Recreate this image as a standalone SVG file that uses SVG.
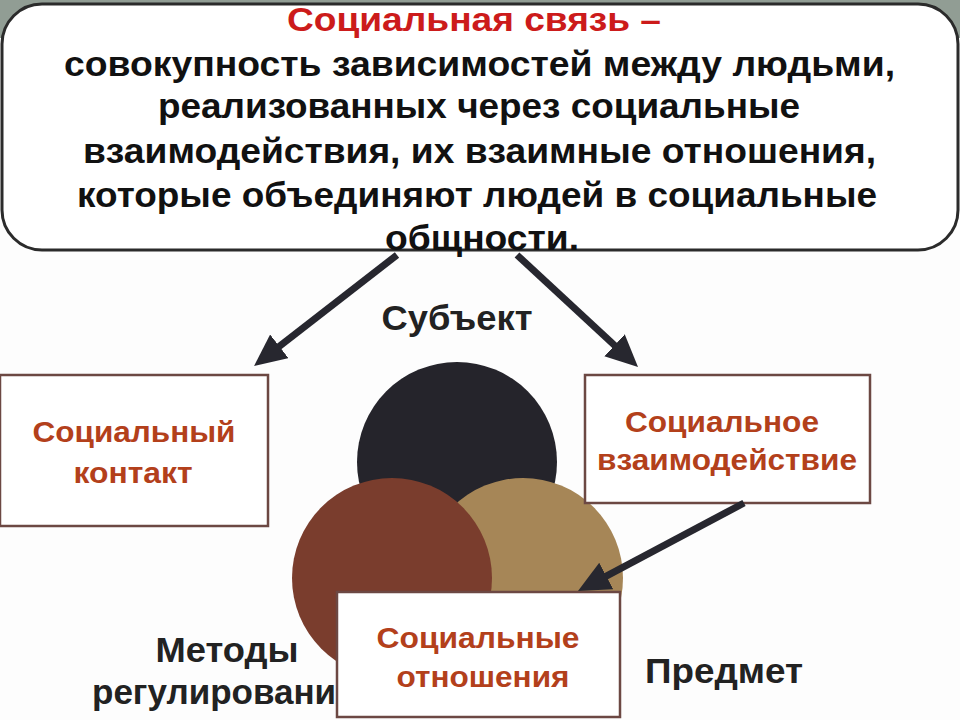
<svg xmlns="http://www.w3.org/2000/svg" width="960" height="720" viewBox="0 0 960 720">
<style>
.def{font-family:"Liberation Sans",Arial,sans-serif;font-weight:bold;font-size:35px;fill:#111;text-anchor:middle}
.title{fill:#cc1b1b;font-size:33px}
.lbl{font-family:"Liberation Sans",Arial,sans-serif;font-weight:bold;font-size:29px;fill:#b3401b;text-anchor:middle}
.cap{font-family:"Liberation Sans",Arial,sans-serif;font-weight:bold;font-size:35px;fill:#222;text-anchor:middle}
.box{fill:#ffffff;stroke:#6c4843;stroke-width:2.5}
.conn{stroke:#27272f;stroke-width:7;fill:none;marker-end:url(#ah)}
</style>
<defs>
<marker id="ah" markerUnits="userSpaceOnUse" markerWidth="34" markerHeight="32" refX="8" refY="15" orient="auto" viewBox="0 0 34 32">
<path d="M0,0 L32,15 L0,30 z" fill="#27272f"/>
</marker>
</defs>
<rect x="0" y="0" width="960" height="720" fill="#fdfdfd"/>
<rect x="0" y="0" width="960" height="38" fill="#919d94"/>

<g id="definition">
<rect x="2" y="4" width="956" height="246" rx="40" ry="40" fill="#ffffff" stroke="#2b2b2b" stroke-width="3"/>
<text class="def title" x="474" y="31" textLength="374" lengthAdjust="spacingAndGlyphs">Социальная связь –</text>
<text class="def" x="479.5" y="76" textLength="831" lengthAdjust="spacingAndGlyphs">совокупность зависимостей между людьми,</text>
<text class="def" x="479" y="118" textLength="642" lengthAdjust="spacingAndGlyphs">реализованных через социальные</text>
<text class="def" x="479.5" y="163" textLength="793" lengthAdjust="spacingAndGlyphs">взаимодействия, их взаимные отношения,</text>
<text class="def" x="477" y="207" textLength="800" lengthAdjust="spacingAndGlyphs">которые объединяют людей в социальные</text>
<text class="def" x="482" y="250" textLength="194" lengthAdjust="spacingAndGlyphs">общности.</text>
</g>

<g id="circles">
<circle id="circle-subject" cx="457" cy="462" r="100" fill="#25242b"/>
<circle id="circle-object" cx="523" cy="578" r="100" fill="#a68657"/>
<circle id="circle-methods" cx="392" cy="578" r="100" fill="#7a3d2d"/>
</g>

<g id="subject"><text class="cap" x="457" y="330" textLength="151" lengthAdjust="spacingAndGlyphs">Субъект</text></g>
<g id="methods">
<text class="cap" x="227" y="662" textLength="143" lengthAdjust="spacingAndGlyphs">Методы</text>
<text class="cap" x="92" y="704" style="text-anchor:start">регулирования</text>
</g>
<g id="object"><text class="cap" x="724" y="683" textLength="158" lengthAdjust="spacingAndGlyphs">Предмет</text></g>

<g id="social-contact">
<rect class="box" x="0" y="375" width="268" height="151"/>
<text class="lbl" x="134" y="442" textLength="203" lengthAdjust="spacingAndGlyphs">Социальный</text>
<text class="lbl" x="133" y="483" textLength="119" lengthAdjust="spacingAndGlyphs">контакт</text>
</g>

<g id="social-interaction">
<rect class="box" x="585" y="375" width="285" height="128"/>
<text class="lbl" x="722" y="432" textLength="194" lengthAdjust="spacingAndGlyphs">Социальное</text>
<text class="lbl" x="727" y="470" textLength="260" lengthAdjust="spacingAndGlyphs">взаимодействие</text>
</g>

<g id="social-relations">
<rect class="box" x="337" y="592" width="283" height="125"/>
<text class="lbl" x="478" y="648" textLength="203" lengthAdjust="spacingAndGlyphs">Социальные</text>
<text class="lbl" x="483" y="687" textLength="173" lengthAdjust="spacingAndGlyphs">отношения</text>
</g>

<g id="connectors">
<line class="conn" x1="397" y1="255" x2="273" y2="351.3"/>
<line class="conn" x1="517" y1="255" x2="620.4" y2="350.7"/>
<line class="conn" x1="744" y1="503" x2="599.2" y2="579.8"/>
</g>
</svg>
